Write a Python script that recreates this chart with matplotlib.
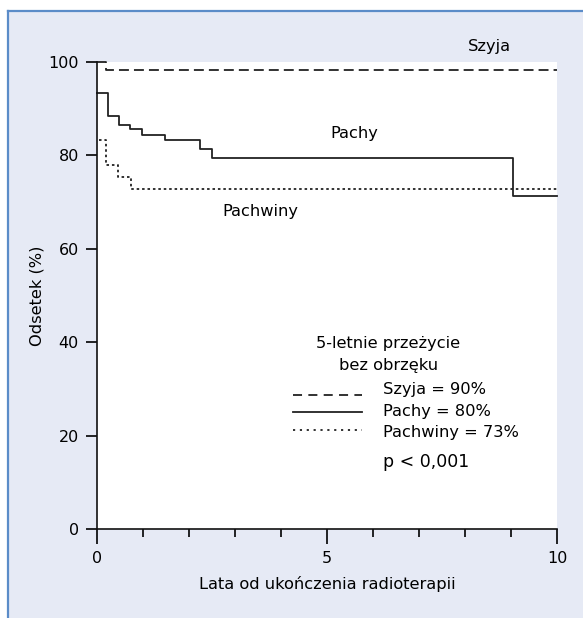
import matplotlib
matplotlib.use("Agg")
import matplotlib.pyplot as plt
from matplotlib.patches import Rectangle
from matplotlib.lines import Line2D
from matplotlib.ticker import MultipleLocator

plt.rcParams['font.family'] = ['DejaVu Sans']

# Data
szyja_t = [0, 0.19, 10]
szyja_s = [100, 98.2, 98.2]
pachy_t = [0, 0.23, 0.48, 0.72, 0.97, 1.48, 2.24, 2.49, 9.04, 10]
pachy_s = [93.4, 88.5, 86.6, 85.6, 84.4, 83.2, 81.3, 79.4, 71.3, 71.3]
pachwiny_t = [0.05, 0.19, 0.45, 0.73, 10]
pachwiny_s = [83.3, 77.9, 75.4, 72.7, 72.7]

x_ticks = [0, 5, 10]
y_ticks = [0, 20, 40, 60, 80, 100]
legend_labels = ["Szyja = 90%", "Pachy = 80%", "Pachwiny = 73%"]
curve_labels = ["Szyja", "Pachy", "Pachwiny"]

W, H = 583, 618
fig = plt.figure(figsize=(W / 100, H / 100), dpi=100, facecolor='white')

bg = '#e6eaf5'
border = '#5b8cc8'
fig.patches.append(Rectangle((8 / W, 0), 1 - 8 / W, 1 - 11 / H, transform=fig.transFigure,
                             facecolor=bg, edgecolor='none', zorder=-10))
fig.lines.append(Line2D([8 / W, 1], [1 - 11 / H, 1 - 11 / H], transform=fig.transFigure,
                        color=border, lw=1.6, zorder=-5))
fig.lines.append(Line2D([8 / W, 8 / W], [0, 1 - 11 / H], transform=fig.transFigure,
                        color=border, lw=1.6, zorder=-5))

ax = fig.add_axes([97 / W, 1 - 529 / H, 460 / W, 467 / H])
ax.set_zorder(5)
ax.set_facecolor('white')
ax.set_xlim(0, 10)
ax.set_ylim(0, 100)
for s in ['top', 'right']:
    ax.spines[s].set_visible(False)
for s in ['left', 'bottom']:
    ax.spines[s].set_linewidth(1.2)
    ax.spines[s].set_color('#111111')

col = '#222222'
ax.plot(szyja_t, szyja_s, drawstyle='steps-post', color=col, lw=1.3,
        dashes=(5.5, 2.8), clip_on=False)
ax.plot(pachy_t, pachy_s, drawstyle='steps-post', color=col, lw=1.3, clip_on=False)
ax.plot(pachwiny_t, pachwiny_s, drawstyle='steps-post', color=col, lw=1.3,
        dashes=(1.4, 1.6), clip_on=False)

fs = 11.7
ax.text(9.0, 103.4, curve_labels[0], fontsize=fs, ha='right', va='center', clip_on=False)
ax.text(5.6, 84.6, curve_labels[1], fontsize=fs, ha='center', va='center')
ax.text(4.37, 67.9, curve_labels[2], fontsize=fs, ha='right', va='center')

ax.text(6.33, 39.8, "5-letnie przeżycie", fontsize=fs, ha='center', va='center')
ax.text(6.33, 35.1, "bez obrzęku", fontsize=fs, ha='center', va='center')

leg_y_text = [29.8, 25.1, 20.6]
leg_y_line = [28.7, 25.1, 21.2]
styles = [dict(dashes=(5, 3.5)), dict(), dict(dashes=(1.2, 2.6))]
for lab, yt, yl, st in zip(legend_labels, leg_y_text, leg_y_line, styles):
    ax.plot([4.26, 5.76], [yl, yl], color=col, lw=1.3, **st)
    ax.text(6.22, yt, lab, fontsize=fs, ha='left', va='center')
ax.text(6.22, 14.3, "p < 0,001", fontsize=12.5, ha='left', va='center')

ax.set_xticks(x_ticks)
ax.set_yticks(y_ticks)
ax.xaxis.set_minor_locator(MultipleLocator(1))
ax.tick_params(axis='x', which='major', direction='out', length=11, width=1.2,
               labelsize=11.5, pad=5)
ax.tick_params(axis='x', which='minor', direction='out', length=5.5, width=1.2)
ax.tick_params(axis='y', which='major', direction='out', length=8, width=1.2,
               labelsize=11.5, pad=5)

ax.set_xlabel("Lata od ukończenia radioterapii", fontsize=fs)
ax.set_ylabel("Odsetek (%)", fontsize=fs)
ax.xaxis.set_label_coords(0.5, (529 - 576) / 467)
ax.yaxis.set_label_coords((44.5 - 97) / 460, 0.5)

fig.savefig("out.png", dpi=100, facecolor=fig.get_facecolor())
